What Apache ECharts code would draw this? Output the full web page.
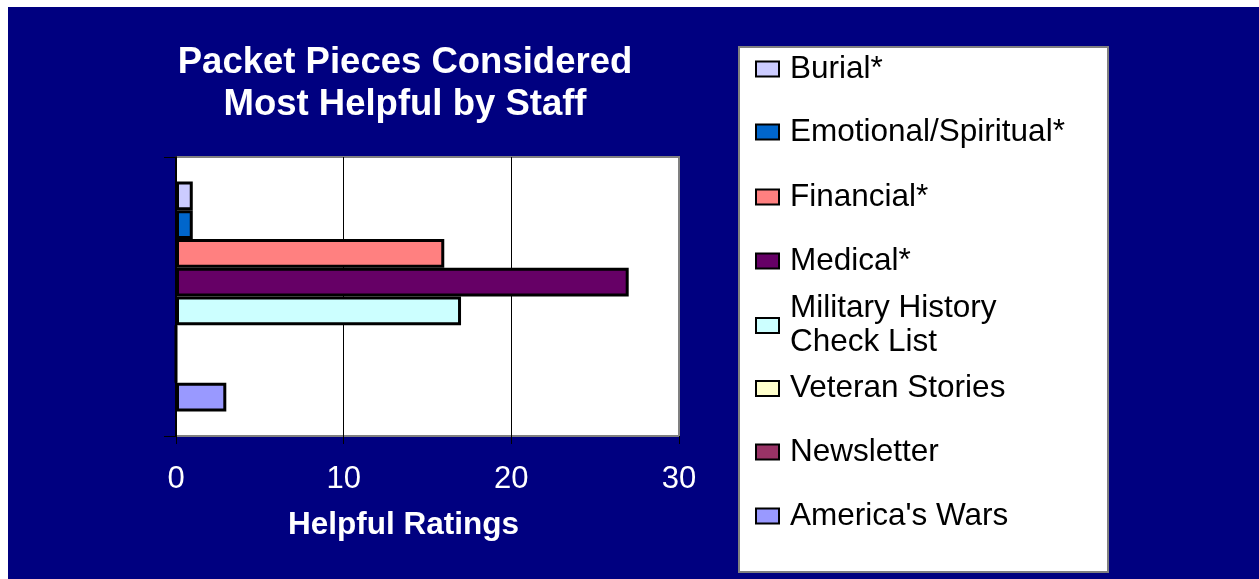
<!DOCTYPE html>
<html><head><meta charset="utf-8">
<script src="https://cdn.jsdelivr.net/npm/echarts@6/dist/echarts.min.js"></script>
<style>
html,body{margin:0;padding:0;background:#fff;}
#bg{position:absolute;left:8px;top:7px;width:1251px;height:572px;background:#000080;}
#c{position:absolute;left:0;top:0;width:1259px;height:579px;}
</style></head><body><div id="bg"></div><div id="c"></div>
<script>
const categories = ['Packet Pieces'];
const seriesNames = ['Burial*', 'Emotional/Spiritual*', 'Financial*', 'Medical*', 'Military History Check List', 'Veteran Stories', 'Newsletter', "America's Wars"];
const seriesValues = [1, 1, 16, 27, 17, 0, 0, 3];
const xTickMin = 0, xTickMax = 30, xTickStep = 10;
const titleText = 'Packet Pieces Considered\nMost Helpful by Staff';
const axisTitle = 'Helpful Ratings';

const colors = ['#CCCCFF', '#0066CC', '#FF8080', '#660066', '#CCFFFF', '#FFFFCC', '#993366', '#9999FF'];
const legendCenters = [68, 131, 196, 260, 324.5, 387.5, 451, 515];
const FONT = "'Liberation Sans', Arial, sans-serif";

const chart = echarts.init(document.getElementById('c'), null, {renderer: 'canvas'});

const legends = seriesNames.map((n, i) => {
  const multi = (n === 'Military History Check List');
  return {
    show: true, data: [n], orient: 'vertical', left: 755,
    top: legendCenters[i] - (multi ? 51 : 17) + 1, padding: 0,
    itemWidth: 23, itemHeight: 15, icon: 'rect', selectedMode: false,
    itemStyle: {borderColor: '#000', borderWidth: 2},
    formatter: multi ? 'Military History\nCheck List' : '{name}',
    textStyle: {fontFamily: FONT, fontSize: 31.5, color: '#000', lineHeight: 34,
      padding: multi ? [34, 0, 0, 6] : [0, 0, 0, 6]}
  };
});

const option = {
  animation: false,
  backgroundColor: 'transparent',
  title: {
    text: titleText, left: 405, top: 42, textAlign: 'center', padding: 0,
    textStyle: {color: '#fff', fontFamily: FONT, fontWeight: 'bold', fontSize: 36.5, lineHeight: 42}
  },
  graphic: [{
    type: 'rect', z: 0, shape: {x: 739, y: 47, width: 369, height: 525},
    style: {fill: '#fff', stroke: '#808080', lineWidth: 2}
  }],
  legend: legends,
  grid: {left: 176, top: 157, width: 503, height: 279, show: true,
    backgroundColor: '#fff', borderColor: '#808080', borderWidth: 2},
  xAxis: {
    type: 'value', min: xTickMin, max: xTickMax, interval: xTickStep,
    axisLine: {show: false},
    axisTick: {show: true, length: 8, lineStyle: {color: '#000', width: 1}},
    axisLabel: {color: '#fff', fontSize: 31, fontFamily: FONT, margin: 28},
    splitLine: {show: true, showMaxLine: false, lineStyle: {color: '#000', width: 1}},
    name: axisTitle, nameLocation: 'middle', nameGap: 73,
    nameTextStyle: {color: '#fff', fontSize: 31.5, fontWeight: 'bold', fontFamily: FONT, padding: [0, 48, 0, 0]}
  },
  yAxis: {
    type: 'category', data: categories, boundaryGap: true,
    axisLabel: {show: false},
    axisLine: {show: true, lineStyle: {color: '#000', width: 2}},
    axisTick: {show: true, length: 12, lineStyle: {color: '#000', width: 1}}
  },
  series: seriesNames.map((n, i) => ({
    type: 'bar', name: n, data: [seriesValues[i]],
    barGap: '0%', barCategoryGap: '17.6%',
    itemStyle: {color: colors[i], borderColor: '#000', borderWidth: 3}
  }))
};
chart.setOption(option);
</script></body></html>
